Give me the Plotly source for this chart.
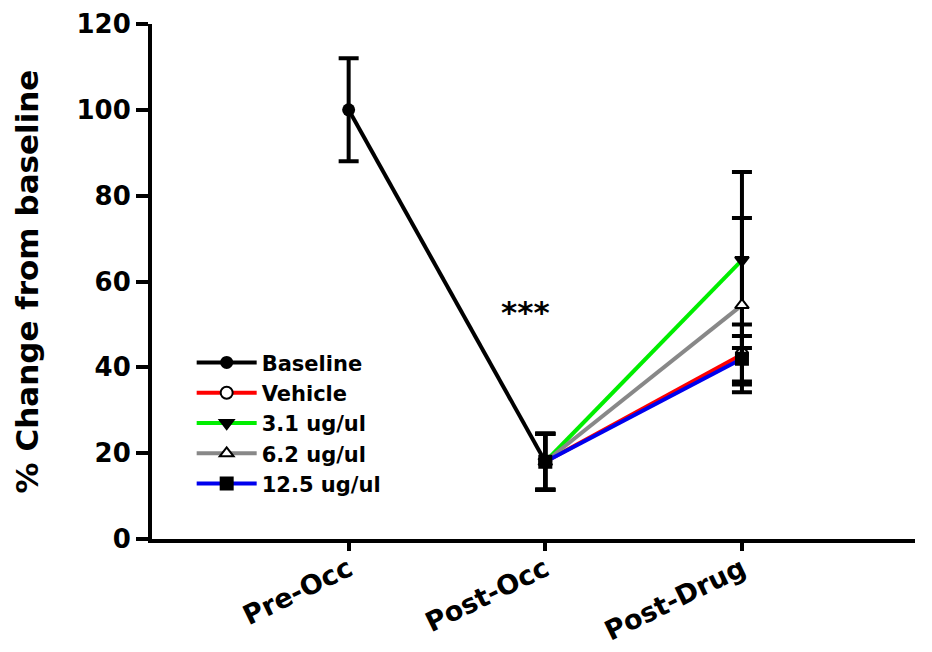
import plotly.graph_objects as go

categories = ["Pre-Occ", "Post-Occ", "Post-Drug"]
cat_pos = [1, 2, 3]

baseline_vals = [100, 18]
baseline_err = [12, 6.5]

series_names = ["Vehicle", "3.1 ug/ul", "6.2 ug/ul", "12.5 ug/ul"]
post_occ_val = 18
post_occ_err = 6.5
post_drug_vals = [43, 65, 54.5, 42]
post_drug_errs = [7, 20.5, 20.3, 5.3]

colors = ["red", "#00ee00", "#888888", "#0000ee"]
symbols = ["circle", "triangle-down", "triangle-up", "square"]
fills = ["white", "black", "white", "black"]

y_ticks = [0, 20, 40, 60, 80, 100, 120]

FONT = "DejaVu Sans"

fig = go.Figure()

fig.add_trace(go.Scatter(
    x=cat_pos[:2], y=baseline_vals, name="Baseline", mode="lines+markers",
    line=dict(color="black", width=4),
    marker=dict(symbol="circle", size=13, color="black"),
    error_y=dict(type="data", array=baseline_err, color="black", thickness=4, width=10),
))

for name, v, e, c, s, f in zip(series_names, post_drug_vals, post_drug_errs, colors, symbols, fills):
    fig.add_trace(go.Scatter(
        x=cat_pos[1:], y=[post_occ_val, v], name=name, mode="lines+markers",
        line=dict(color=c, width=4),
        marker=dict(symbol=s, size=12, color=f, line=dict(color="black", width=2)),
        error_y=dict(type="data", array=[post_occ_err, e], color="black", thickness=4, width=10),
    ))

fig.add_annotation(x=1.9, y=53, text="<b>***</b>", showarrow=False,
                   font=dict(family=FONT, size=31, color="black"))

fig.update_layout(
    width=932, height=652,
    margin=dict(l=152, r=17, t=24, b=113, autoexpand=False),
    plot_bgcolor="white", paper_bgcolor="white",
    font=dict(family=FONT, color="black"),
    showlegend=True,
    legend=dict(x=0.052, y=0.382, xanchor="left", yanchor="top",
                font=dict(family=FONT, size=21, color="black", weight="bold"),
                itemwidth=60, tracegroupgap=0, bgcolor="rgba(0,0,0,0)"),
    xaxis=dict(range=[0, 3.88], tickvals=cat_pos, ticktext=[f"<b>{c}</b>" for c in categories],
               tickangle=-26, ticks="outside", ticklen=8, tickwidth=4, tickcolor="black",
               ticklabelstandoff=-8,
               showline=True, linecolor="black", linewidth=4, showgrid=False, zeroline=False,
               automargin=False,
               tickfont=dict(family=FONT, size=27, color="black")),
    yaxis=dict(range=[0, 120], tickvals=y_ticks, ticktext=[f"<b>{t}</b>" for t in y_ticks],
               ticks="outside", ticklen=12, tickwidth=4, tickcolor="black",
               showline=True, linecolor="black", linewidth=4, showgrid=False, zeroline=False,
               automargin=False,
               tickfont=dict(family=FONT, size=26, color="black"),
               title=dict(text="<b>% Change from baseline</b>", standoff=30,
                          font=dict(family=FONT, size=31, color="black"))),
)

fig.write_html("out.html")
